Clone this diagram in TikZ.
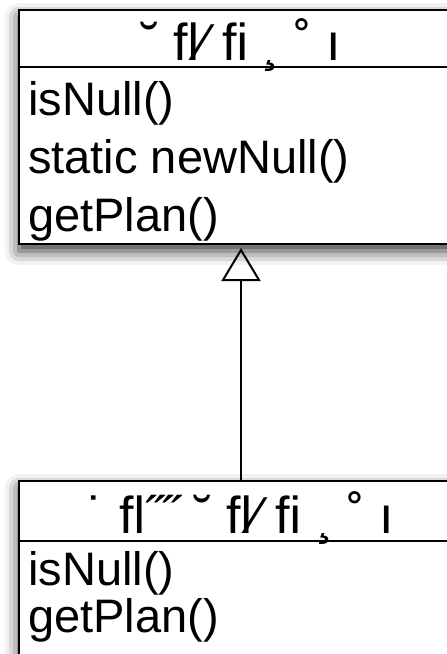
\documentclass[tikz,border=0pt]{standalone}
\usepackage{fontspec}
\setmainfont{Liberation Sans}
\usetikzlibrary{arrows.meta,shadows.blur}

\tikzset{
  classbox/.style={draw, fill=white, line width=2pt, minimum width=444pt,
    inner sep=0pt, anchor=north west,
    blur shadow={shadow xshift=0pt, shadow yshift=-7pt,
      shadow blur radius=14pt, shadow opacity=80}},
  classname/.style={anchor=base, inner sep=0pt, font=\fontsize{52}{52}\selectfont},
  member/.style={anchor=base west, inner sep=0pt},
  extends/.style={line width=2pt, shorten >=3pt,
    -{Triangle[open, width=39pt, length=33pt, line width=2pt]}}
}

\begin{document}
\begin{tikzpicture}[x=1pt, y=1pt, font=\fontsize{47}{47}\selectfont]
  \useasboundingbox (0,0) rectangle (447,-654);
  \clip (0,0) rectangle (447,-654);

  % base class
  \node [classbox, minimum height=234pt] (nullplan) at (18,-9) {};
  \draw [line width=2pt] ([yshift=-58pt]nullplan.north west)
    -- ([yshift=-58pt]nullplan.north east);
  \node [classname] (nullplanname) at ([yshift=-51pt]nullplan.north) {˘ ﬂ⁄ ﬁ ¸ ˚ ı};
  \node [member] (nullplanisnull) at (28,-115) {isNull()};
  \node [member] (nullplannew) at (28,-173) {static newNull()};
  \node [member] (nullplanget) at (28,-231) {getPlan()};

  % subclass
  \node [classbox, minimum height=200pt] (realplan) at (18,-480) {};
  \draw [line width=2pt] ([yshift=-61pt]realplan.north west)
    -- ([yshift=-61pt]realplan.north east);
  \node [classname] (realplanname) at ([yshift=-53pt]realplan.north) {˙ ﬂ˝˝ ˘ ﬂ⁄ ﬁ ¸ ˚ ı};
  \node [member] (realplanisnull) at (28,-585) {isNull()};
  \node [member] (realplanget) at (28,-632) {getPlan()};

  \draw [extends] (realplan.north) -- (nullplan.south);
\end{tikzpicture}
\end{document}
